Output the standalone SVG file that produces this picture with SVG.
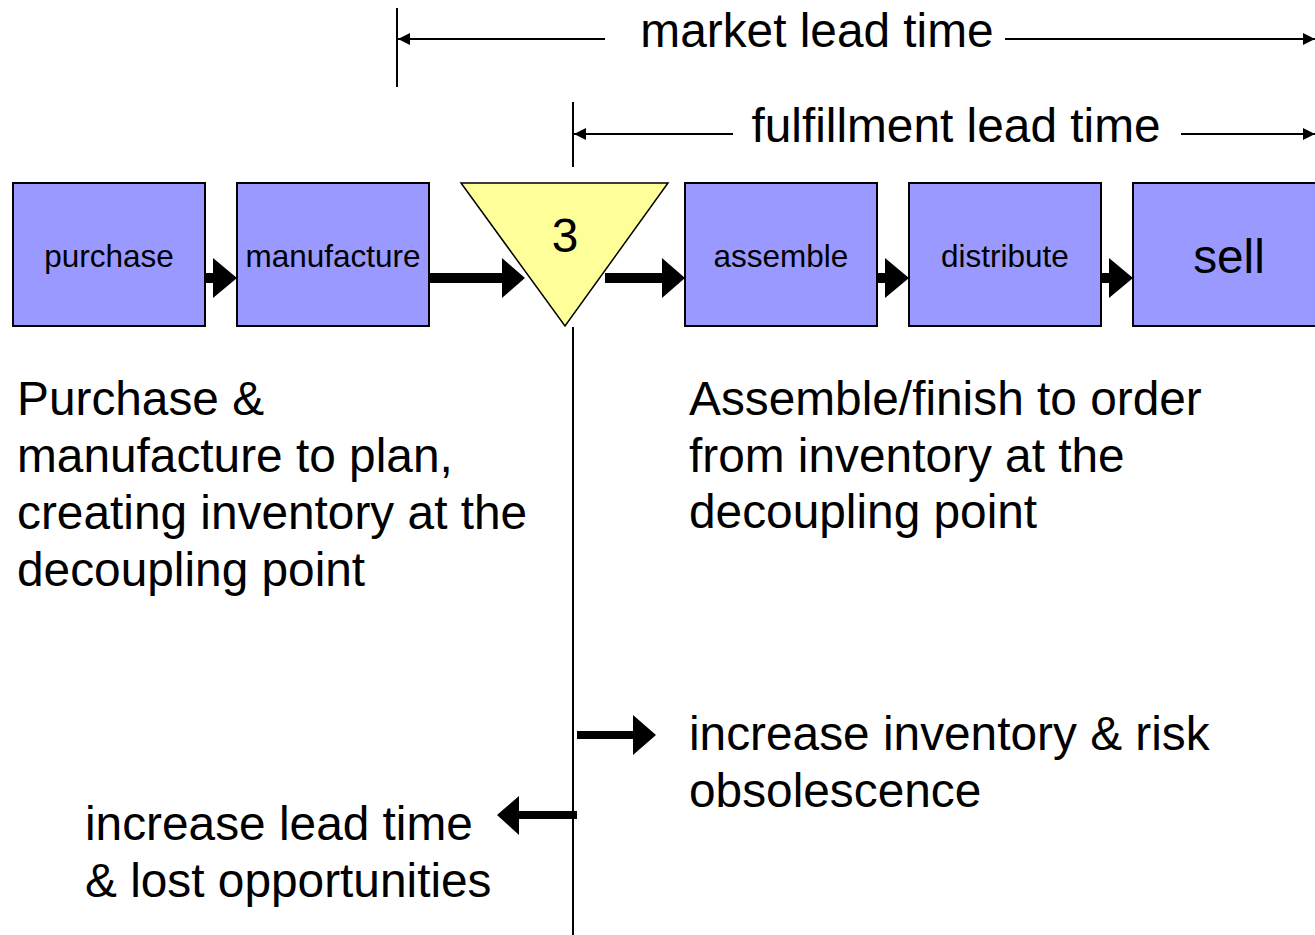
<svg xmlns="http://www.w3.org/2000/svg" width="1315" height="935" viewBox="0 0 1315 935">
<style>
.box{fill:#9999FF;stroke:#000;stroke-width:2}
.tri{fill:#FFFF99;stroke:#000;stroke-width:1.5}
.t{font-family:"Liberation Sans",Arial,sans-serif;fill:#000}
.big{font-size:47.8px}
.sm{font-size:31.5px}
.dim{stroke:#000;stroke-width:2;fill:none}
.fat{fill:#000}
</style>
<defs>
<marker id="ah" viewBox="0 0 10 10" refX="10" refY="5" markerWidth="6" markerHeight="6" markerUnits="strokeWidth" orient="auto-start-reverse">
<path d="M0,0 L10,5 L0,10 Z" fill="#000"/>
</marker>
</defs>
<rect width="1315" height="935" fill="#fff"/>

<g id="dimensions">
<line class="dim" x1="397" y1="8" x2="397" y2="87"/>
<line class="dim" x1="605" y1="39" x2="398" y2="39" marker-end="url(#ah)"/>
<line class="dim" x1="1005" y1="39" x2="1315" y2="39" marker-end="url(#ah)"/>
<text class="t big" x="817" y="47" text-anchor="middle">market lead time</text>
<line class="dim" x1="573" y1="102" x2="573" y2="167"/>
<line class="dim" x1="733" y1="134" x2="574" y2="134" marker-end="url(#ah)"/>
<line class="dim" x1="1181" y1="134" x2="1315" y2="134" marker-end="url(#ah)"/>
<text class="t big" x="956" y="142" text-anchor="middle">fulfillment lead time</text>
</g>

<g id="purchase">
<rect class="box" x="13" y="183" width="192" height="143"/>
<text class="t sm" x="109" y="267" text-anchor="middle">purchase</text>
</g>
<g id="manufacture">
<rect class="box" x="237" y="183" width="192" height="143"/>
<text class="t sm" x="333" y="267" text-anchor="middle">manufacture</text>
</g>
<g id="decoupling">
<polygon class="tri" points="461,183 668,183 565,326"/>
<text class="t big" x="565" y="252" text-anchor="middle">3</text>
</g>
<g id="assemble">
<rect class="box" x="685" y="183" width="192" height="143"/>
<text class="t sm" x="781" y="267" text-anchor="middle">assemble</text>
</g>
<g id="distribute">
<rect class="box" x="909" y="183" width="192" height="143"/>
<text class="t sm" x="1005" y="267" text-anchor="middle">distribute</text>
</g>
<g id="sell">
<rect class="box" x="1133" y="183" width="192" height="143"/>
<text class="t big" x="1229" y="273" text-anchor="middle">sell</text>
</g>

<g id="connectors">
<path class="fat" d="M205,273 H213 V258 L237,278 L213,298 V283 H205 Z"/>
<path class="fat" d="M429,273 H502 V258 L525,278 L502,298 V283 H429 Z"/>
<path class="fat" d="M605,273 H662 V258 L685,278 L662,298 V283 H605 Z"/>
<path class="fat" d="M877,273 H885 V258 L909,278 L885,298 V283 H877 Z"/>
<path class="fat" d="M1101,273 H1109 V258 L1133,278 L1109,298 V283 H1101 Z"/>
<line class="dim" x1="573" y1="327" x2="573" y2="935"/>
<path class="fat" d="M577,731 H633 V715 L656,735 L633,755 V739 H577 Z"/>
<path class="fat" d="M577,811 H519 V796 L497,815 L519,835 V819 H577 Z"/>
</g>

<g id="labels">
<text class="t big" x="17" y="415">Purchase &amp;</text>
<text class="t big" x="17" y="472">manufacture to plan,</text>
<text class="t big" x="17" y="529">creating inventory at the</text>
<text class="t big" x="17" y="586">decoupling point</text>
<text class="t big" x="689" y="415">Assemble/finish to order</text>
<text class="t big" x="689" y="472">from inventory at the</text>
<text class="t big" x="689" y="528">decoupling point</text>
<text class="t big" x="689" y="750">increase inventory &amp; risk</text>
<text class="t big" x="689" y="807">obsolescence</text>
<text class="t big" x="85" y="840">increase lead time</text>
<text class="t big" x="85" y="897">&amp; lost opportunities</text>
</g>
</svg>
